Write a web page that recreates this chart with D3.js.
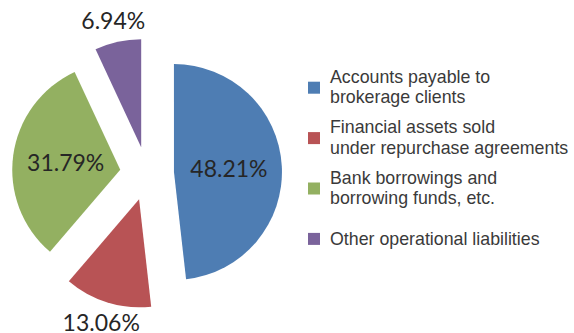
<!DOCTYPE html>
<html>
<head>
<meta charset="utf-8">
<script src="https://cdn.jsdelivr.net/npm/d3@7"></script>
<style>
  html, body { margin: 0; padding: 0; background: #ffffff; }
  svg { display: block; }
</style>
</head>
<body>
<svg id="chart" width="574" height="333"></svg>
<script>
// Liability composition (share of total, %)
const categories = [
  "Accounts payable to brokerage clients",
  "Financial assets sold under repurchase agreements",
  "Bank borrowings and borrowing funds, etc.",
  "Other operational liabilities"
];
const legendLines = [
  ["Accounts payable to", "brokerage clients"],
  ["Financial assets sold", "under repurchase agreements"],
  ["Bank borrowings and", "borrowing funds, etc."],
  ["Other operational liabilities"]
];
const values = [48.21, 13.06, 31.79, 6.94];
const colors = ["#4e7db3", "#b85355", "#93b061", "#7a639b"];
// labels drawn inside the slice (true) or just outside the rim (false)
const labelInside = [true, false, true, false];

const svg = d3.select("#chart");

const cx = 147, cy = 173.5;
const radius = 108;
const explode = 27;

const pie = d3.pie().sort(null).value(d => d.value).startAngle(0).endAngle(2 * Math.PI);
const data = categories.map((c, i) => ({ name: c, value: values[i], color: colors[i], inside: labelInside[i] }));
const arcs = pie(data);

const arc = d3.arc().innerRadius(0).outerRadius(radius);

const unit = a => [Math.sin(a), -Math.cos(a)];

const g = svg.append("g").attr("transform", `translate(${cx},${cy})`);

const slice = g.selectAll("g.slice")
  .data(arcs)
  .enter().append("g")
  .attr("class", "slice")
  .attr("transform", d => {
    const m = (d.startAngle + d.endAngle) / 2;
    const [ux, uy] = unit(m);
    return `translate(${ux * explode},${uy * explode})`;
  });

slice.append("path")
  .attr("d", arc)
  .attr("fill", d => d.data.color);

slice.append("text")
  .attr("x", d => unit((d.startAngle + d.endAngle) / 2)[0] * (d.data.inside ? radius * 0.51 : radius + 21))
  .attr("y", d => unit((d.startAngle + d.endAngle) / 2)[1] * (d.data.inside ? radius * 0.51 : radius + 21))
  .attr("dy", "0.36em")
  .attr("text-anchor", "middle")
  .attr("font-family", "Lato, 'Noto Sans', sans-serif")
  .attr("font-size", 23)
  .attr("fill", "#262626")
  .text(d => d.data.value.toFixed(2) + "%");

// Legend
const legend = svg.append("g").attr("transform", "translate(308,87.7)");
const item = legend.selectAll("g.item")
  .data(data)
  .enter().append("g")
  .attr("class", "item")
  .attr("transform", (d, i) => `translate(0,${i * 50.4})`);

item.append("rect")
  .attr("x", 0).attr("y", -6)
  .attr("width", 12).attr("height", 12)
  .attr("fill", d => d.color);

item.each(function (d, i) {
  const lines = legendLines[i];
  const t = d3.select(this).append("text")
    .attr("font-family", "'Liberation Sans', Arial, sans-serif")
    .attr("font-size", 17.8)
    .attr("fill", "#3a3a3a");
  const first = lines.length === 2 ? -4.9 : 6.3;
  lines.forEach((ln, k) => {
    t.append("tspan").attr("x", 22).attr("y", first + k * 20.4).text(ln);
  });
});
</script>
</body>
</html>
